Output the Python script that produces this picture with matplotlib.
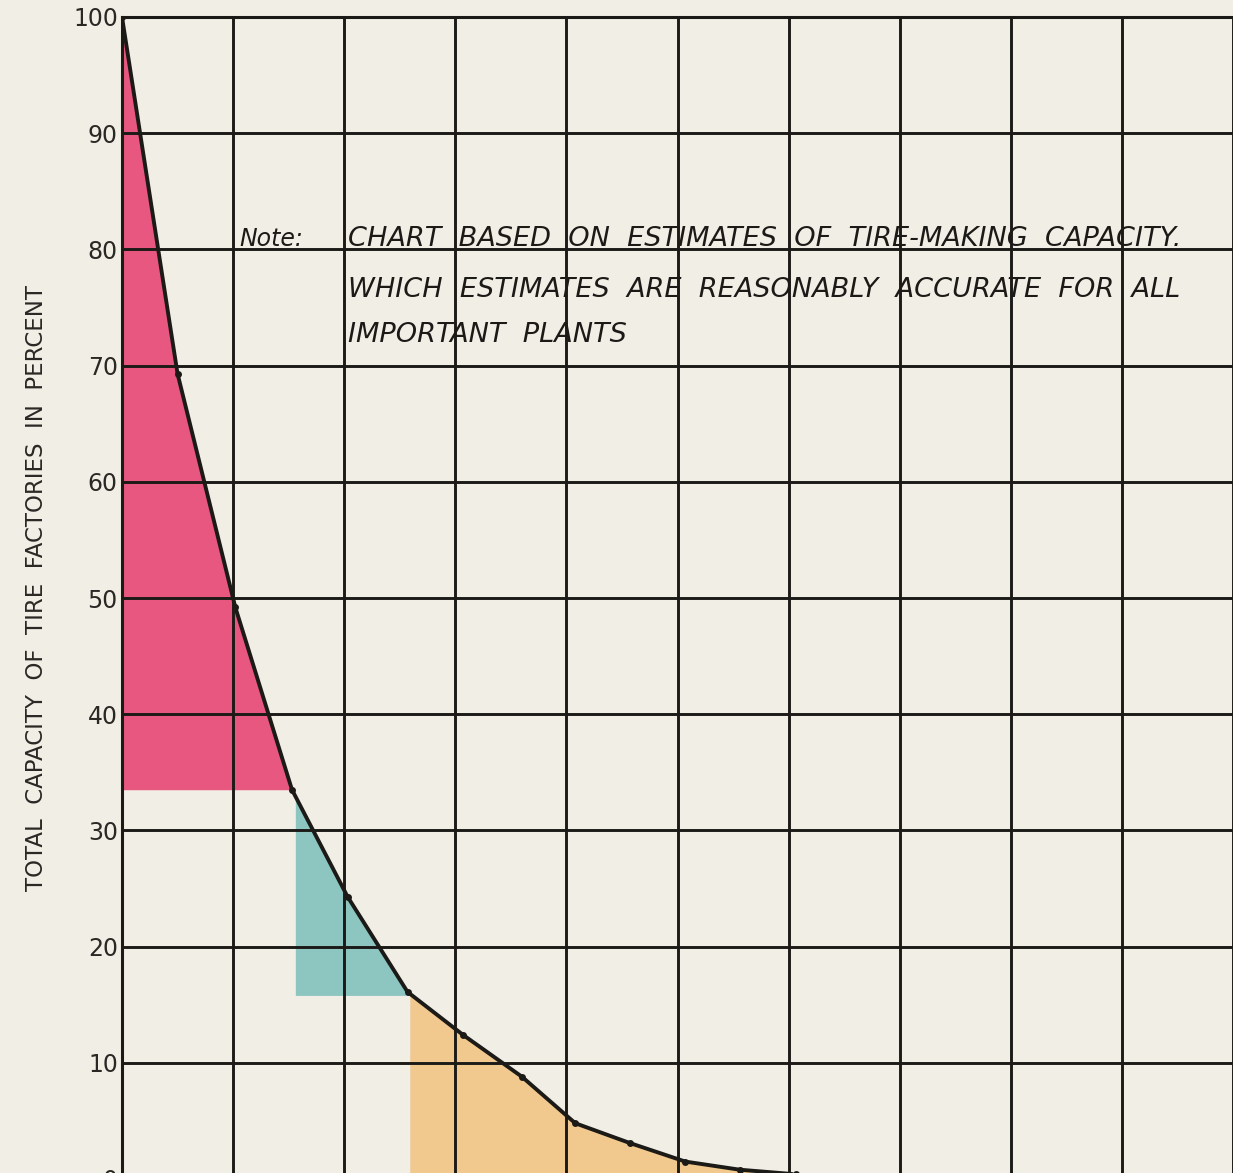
import numpy as np
import matplotlib
matplotlib.use("Agg")
import matplotlib.pyplot as plt

# Cumulative share of tire-making capacity vs. number of plants (grid units)
plant_pos = [0.0, 0.50, 1.02, 1.53, 2.03, 2.57, 3.07, 3.60, 4.08, 4.57, 5.07, 5.56, 6.07]
capacity = [100, 69.3, 49.2, 33.5, 24.3, 16.1, 12.4, 8.8, 4.8, 3.1, 1.5, 0.8, 0.4]

# Shaded groups of plants
group_start = [0.0, 1.56, 2.59]
group_end = [1.53, 2.57, 6.07]
group_floor = [33.5, 15.8, 0.0]
group_colors = ["#E7577F", "#8DC6C1", "#F1C88E"]

y_ticks = [0, 10, 20, 30, 40, 50, 60, 70, 80, 90, 100]
y_tick_labels = ["0", "10", "20", "30", "40", "50", "60", "70", "80", "90", "100"]
x_grid = [0, 1, 2, 3, 4, 5, 6, 7, 8, 9, 10]

y_label = "TOTAL  CAPACITY  OF  TIRE  FACTORIES  IN  PERCENT"
note_head = "Note:"
note_lines = [
    "CHART  BASED  ON  ESTIMATES  OF  TIRE-MAKING  CAPACITY.",
    "WHICH  ESTIMATES  ARE  REASONABLY  ACCURATE  FOR  ALL",
    "IMPORTANT  PLANTS",
]

paper = "#F1EFE5"
ink = "#1c1a17"

W, H = 1233, 1173
fig = plt.figure(figsize=(W / 100, H / 100), dpi=100, facecolor=paper)

# Axes: the grid runs past the right and bottom edges of the sheet
x0_px, y100_px, y0_px, unit_x = 122, 17, 1179, 111.1
x_max = 10.6
ax = fig.add_axes([x0_px / W, (H - y0_px) / H,
                   x_max * unit_x / W, (y0_px - y100_px) / H])
ax.set_facecolor(paper)
ax.set_xlim(0, x_max)
ax.set_ylim(0, 100)

for s in ["left", "top"]:
    ax.spines[s].set_linewidth(2.2)
    ax.spines[s].set_color(ink)
for s in ["right", "bottom"]:
    ax.spines[s].set_visible(False)

ax.set_xticks(x_grid)
ax.set_xticklabels([])
ax.set_yticks(y_ticks)
ax.set_yticklabels(y_tick_labels, fontsize=17, color="#2a2824")
ax.tick_params(axis="both", length=0, pad=3)
ax.grid(True, color=ink, linewidth=2.1)

# Coloured bands under the curve
x_arr = np.array(plant_pos)
y_arr = np.array(capacity)
for xs0, xs1, floor, col in zip(group_start, group_end, group_floor, group_colors):
    inner = x_arr[(x_arr > xs0) & (x_arr < xs1)]
    xs = np.concatenate([[xs0], inner, [xs1]])
    ys = np.interp(xs, x_arr, y_arr)
    ax.fill_between(xs, floor, ys, color=col, linewidth=0, zorder=0.2)

# Curve with plotted points
ax.plot(plant_pos, capacity, color=ink, linewidth=2.8, zorder=3,
        marker="o", markersize=5, markerfacecolor=ink, markeredgewidth=0,
        solid_capstyle="round")

# Note block
ax.text(1.06, 80.3, note_head, fontsize=17, style="italic",
        family="DejaVu Sans", color=ink, va="baseline", ha="left", zorder=4)
note_y = [80.3, 75.9, 72.0]
for line, yy in zip(note_lines, note_y):
    ax.text(2.03, yy, line, fontsize=19.5, style="italic", family="DejaVu Sans",
            color=ink, va="baseline", ha="left", zorder=4)

# Vertical axis title
fig.text(37 / W, 1 - 588 / H, y_label, rotation=90, fontsize=16.5,
         color="#2a2824", ha="center", va="center", family="DejaVu Sans")

fig.savefig("out.png", dpi=100, facecolor=paper)
